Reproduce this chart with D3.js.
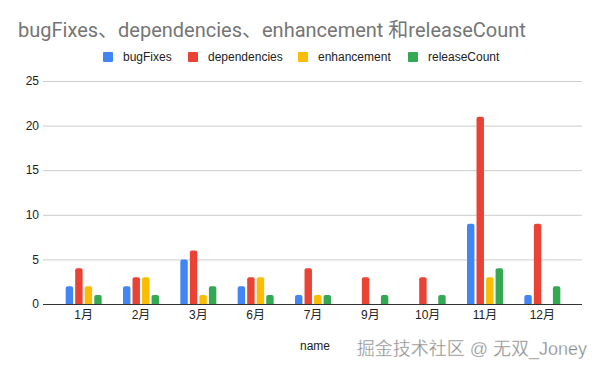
<!DOCTYPE html>
<html>
<head>
<meta charset="utf-8">
<script src="https://cdn.jsdelivr.net/npm/d3@7"></script>
<style>
  body { margin: 0; background: #fff; }
  text { font-family: "Liberation Sans", Arial, "Noto Sans CJK SC", sans-serif; }
  .title { font-family: Roboto, "Noto Sans CJK SC", sans-serif; }
</style>
</head>
<body>
<div id="wrapper"></div>
<script>
// data
const months = ["1月", "2月", "3月", "6月", "7月", "9月", "10月", "11月", "12月"];
const seriesNames = ["bugFixes", "dependencies", "enhancement", "releaseCount"];
const bugFixes = [2, 2, 5, 2, 1, 0, 0, 9, 1];
const dependencies = [4, 3, 6, 3, 4, 3, 3, 21, 9];
const enhancement = [2, 3, 1, 3, 1, 0, 0, 3, 0];
const releaseCount = [1, 1, 2, 1, 1, 1, 1, 4, 2];
const yTicks = [0, 5, 10, 15, 20, 25];
const colors = ["#4285f4", "#ea4335", "#fbbc04", "#34a853"];

const seriesValues = [bugFixes, dependencies, enhancement, releaseCount];
const dataset = months.map((m, i) => ({
  name: m,
  values: seriesNames.map((s, j) => ({ key: s, value: seriesValues[j][i] })),
}));

// dimensions
const dimensions = {
  width: 600,
  height: 371,
  gridLeft: 43,
  gridRight: 582,
  bandLeft: 55,
  bandRight: 571,
  top: 81,
  bottom: 304,
};

const svg = d3
  .select("#wrapper")
  .append("svg")
  .attr("width", dimensions.width)
  .attr("height", dimensions.height);

// scales
const yScale = d3.scaleLinear().domain([0, 25]).range([dimensions.bottom, dimensions.top]);

const xScale = d3
  .scaleBand()
  .domain(months)
  .range([dimensions.bandLeft, dimensions.bandRight]);

const innerScale = d3
  .scaleBand()
  .domain(seriesNames)
  .range([0, 36])
  .paddingInner(0.22);

// gridlines
svg
  .append("g")
  .selectAll("line")
  .data(yTicks.filter((d) => d > 0))
  .join("line")
  .attr("x1", dimensions.gridLeft)
  .attr("x2", dimensions.gridRight)
  .attr("y1", (d) => yScale(d) + 0.5)
  .attr("y2", (d) => yScale(d) + 0.5)
  .attr("stroke", "#cccccc")
  .attr("stroke-width", 1);

// y labels
svg
  .append("g")
  .selectAll("text")
  .data(yTicks)
  .join("text")
  .attr("x", 39)
  .attr("y", (d) => yScale(d))
  .attr("dy", "0.35em")
  .attr("text-anchor", "end")
  .attr("font-size", 12)
  .attr("fill", "#222")
  .text((d) => d);

// bars
const groups = svg
  .append("g")
  .selectAll("g")
  .data(dataset)
  .join("g")
  .attr("transform", (d) => `translate(${xScale(d.name) + xScale.bandwidth() / 2 - 18},0)`);

groups
  .selectAll("path")
  .data((d) => d.values.filter((v) => v.value > 0))
  .join("path")
  .attr("fill", (d) => colors[seriesNames.indexOf(d.key)])
  .attr("d", (d) => {
    const x = innerScale(d.key);
    const w = innerScale.bandwidth();
    const y0 = yScale(0);
    const y1 = yScale(d.value);
    const r = 2;
    const p = d3.path();
    p.moveTo(x, y0);
    p.lineTo(x, y1 + r);
    p.arcTo(x, y1, x + r, y1, r);
    p.lineTo(x + w - r, y1);
    p.arcTo(x + w, y1, x + w, y1 + r, r);
    p.lineTo(x + w, y0);
    p.closePath();
    return p.toString();
  });

// baseline
svg
  .append("line")
  .attr("x1", dimensions.gridLeft)
  .attr("x2", dimensions.gridRight)
  .attr("y1", dimensions.bottom + 0.5)
  .attr("y2", dimensions.bottom + 0.5)
  .attr("stroke", "#333")
  .attr("stroke-width", 1);

// x labels
svg
  .append("g")
  .selectAll("text")
  .data(months)
  .join("text")
  .attr("x", (d) => xScale(d) + xScale.bandwidth() / 2)
  .attr("y", 319)
  .attr("text-anchor", "middle")
  .attr("font-size", 12)
  .attr("fill", "#222")
  .text((d) => d);

// axis title
svg
  .append("text")
  .attr("x", 300)
  .attr("y", 350)
  .attr("font-size", 12)
  .attr("fill", "#222")
  .text("name");

// chart title
svg
  .append("text")
  .attr("class", "title")
  .attr("x", 18)
  .attr("y", 37)
  .attr("font-size", 20)
  .attr("fill", "#757575")
  .text("bugFixes、dependencies、enhancement 和releaseCount");

// legend
const legendX = [103, 188, 298, 408];
const legend = svg
  .append("g")
  .selectAll("g")
  .data(seriesNames)
  .join("g")
  .attr("transform", (d, i) => `translate(${legendX[i]},52)`);

legend
  .append("rect")
  .attr("width", 10)
  .attr("height", 10)
  .attr("rx", 1)
  .attr("fill", (d, i) => colors[i]);

legend
  .append("text")
  .attr("x", 20)
  .attr("y", 5)
  .attr("dy", "0.35em")
  .attr("font-size", 12)
  .attr("fill", "#222")
  .text((d) => d);

// watermark
svg
  .append("text")
  .attr("x", 587)
  .attr("y", 355)
  .attr("text-anchor", "end")
  .attr("font-size", 18)
  .attr("fill", "#8a8a8a")
  .attr("stroke", "#ffffff")
  .attr("stroke-width", 0.3)
  .text("掘金技术社区 @ 无双_Joney");
</script>
</body>
</html>
